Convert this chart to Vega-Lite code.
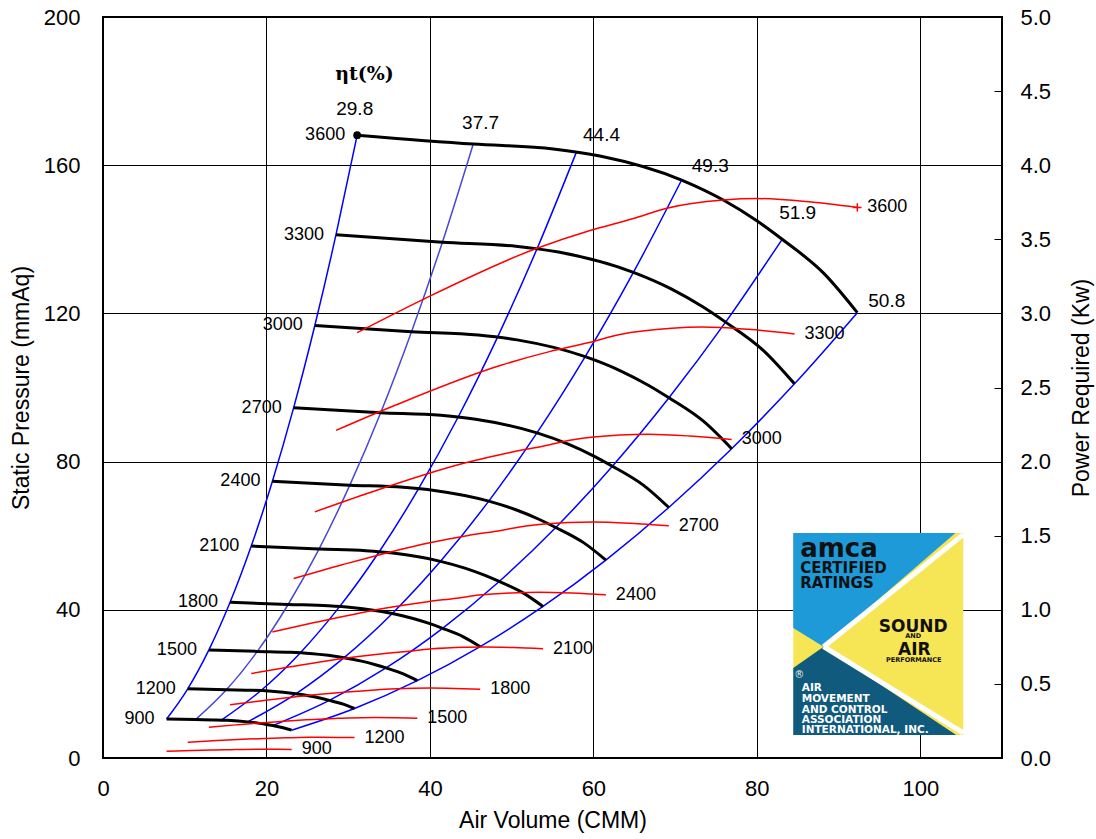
{
"$schema":"https://vega.github.io/schema/vega-lite/v6.json",
"width":899,"height":741,
"autosize":{"type":"none"},
"padding":{"left":103,"top":17,"right":94,"bottom":81},
"background":"#ffffff",
"config":{
 "view":{"stroke":"#000","strokeWidth":2},
 "font":"Liberation Sans",
 "axis":{"labelFont":"Liberation Sans","labelFontSize":22,"labelColor":"#000","titleFont":"Liberation Sans","titleFontSize":23,"titleFontWeight":"normal","titleColor":"#000","domain":false,"gridColor":"#000","gridOpacity":1,"gridWidth":1}
},
"datasets":{
 "black":[
  {"n":900,"q":7.78,"sp":10.51},{"n":900,"q":11.33,"sp":10.36},{"n":900,"q":13.78,"sp":10.28},{"n":900,"q":15.2,"sp":10.16},{"n":900,"q":17.7,"sp":9.75},{"n":900,"q":18.98,"sp":9.41},{"n":900,"q":20.0,"sp":9.06},{"n":900,"q":20.78,"sp":8.75},{"n":900,"q":22.05,"sp":8.18},{"n":900,"q":23.08,"sp":7.51},
  {"n":1200,"q":10.37,"sp":18.68},{"n":1200,"q":15.1,"sp":18.41},{"n":1200,"q":18.37,"sp":18.27},{"n":1200,"q":20.27,"sp":18.06},{"n":1200,"q":23.6,"sp":17.33},{"n":1200,"q":25.3,"sp":16.73},{"n":1200,"q":26.67,"sp":16.11},{"n":1200,"q":27.7,"sp":15.56},{"n":1200,"q":29.4,"sp":14.53},{"n":1200,"q":30.77,"sp":13.36},
  {"n":1500,"q":12.96,"sp":29.18},{"n":1500,"q":18.88,"sp":28.77},{"n":1500,"q":22.96,"sp":28.54},{"n":1500,"q":25.33,"sp":28.21},{"n":1500,"q":29.5,"sp":27.08},{"n":1500,"q":31.63,"sp":26.15},{"n":1500,"q":33.33,"sp":25.17},{"n":1500,"q":34.63,"sp":24.31},{"n":1500,"q":36.75,"sp":22.71},{"n":1500,"q":38.46,"sp":20.87},
  {"n":1800,"q":15.55,"sp":42.03},{"n":1800,"q":22.65,"sp":41.43},{"n":1800,"q":27.55,"sp":41.1},{"n":1800,"q":30.4,"sp":40.63},{"n":1800,"q":35.4,"sp":39.0},{"n":1800,"q":37.95,"sp":37.65},{"n":1800,"q":40.0,"sp":36.25},{"n":1800,"q":41.55,"sp":35.0},{"n":1800,"q":44.1,"sp":32.7},{"n":1800,"q":46.15,"sp":30.05},
  {"n":2100,"q":18.14,"sp":57.2},{"n":2100,"q":26.43,"sp":56.38},{"n":2100,"q":32.14,"sp":55.94},{"n":2100,"q":35.47,"sp":55.3},{"n":2100,"q":41.3,"sp":53.08},{"n":2100,"q":44.28,"sp":51.25},{"n":2100,"q":46.67,"sp":49.34},{"n":2100,"q":48.48,"sp":47.64},{"n":2100,"q":51.45,"sp":44.51},{"n":2100,"q":53.84,"sp":40.9},
  {"n":2400,"q":20.73,"sp":74.71},{"n":2400,"q":30.2,"sp":73.64},{"n":2400,"q":36.73,"sp":73.07},{"n":2400,"q":40.53,"sp":72.22},{"n":2400,"q":47.2,"sp":69.33},{"n":2400,"q":50.6,"sp":66.93},{"n":2400,"q":53.33,"sp":64.44},{"n":2400,"q":55.4,"sp":62.22},{"n":2400,"q":58.8,"sp":58.13},{"n":2400,"q":61.53,"sp":53.42},
  {"n":2700,"q":23.33,"sp":94.56},{"n":2700,"q":33.98,"sp":93.21},{"n":2700,"q":41.33,"sp":92.48},{"n":2700,"q":45.6,"sp":91.41},{"n":2700,"q":53.1,"sp":87.75},{"n":2700,"q":56.93,"sp":84.71},{"n":2700,"q":60.0,"sp":81.56},{"n":2700,"q":62.33,"sp":78.75},{"n":2700,"q":66.15,"sp":73.58},{"n":2700,"q":69.23,"sp":67.61},
  {"n":3000,"q":25.92,"sp":116.74},{"n":3000,"q":37.75,"sp":115.07},{"n":3000,"q":45.92,"sp":114.17},{"n":3000,"q":50.67,"sp":112.85},{"n":3000,"q":59.0,"sp":108.33},{"n":3000,"q":63.25,"sp":104.58},{"n":3000,"q":66.67,"sp":100.69},{"n":3000,"q":69.25,"sp":97.22},{"n":3000,"q":73.5,"sp":90.83},{"n":3000,"q":76.92,"sp":83.47},
  {"n":3300,"q":28.51,"sp":141.25},{"n":3300,"q":41.53,"sp":139.23},{"n":3300,"q":50.51,"sp":138.14},{"n":3300,"q":55.73,"sp":136.55},{"n":3300,"q":64.9,"sp":131.08},{"n":3300,"q":69.58,"sp":126.55},{"n":3300,"q":73.33,"sp":121.84},{"n":3300,"q":76.18,"sp":117.64},{"n":3300,"q":80.85,"sp":109.91},{"n":3300,"q":84.61,"sp":101.0},
  {"n":3600,"q":31.1,"sp":168.1},{"n":3600,"q":45.3,"sp":165.7},{"n":3600,"q":55.1,"sp":164.4},{"n":3600,"q":60.8,"sp":162.5},{"n":3600,"q":70.8,"sp":156.0},{"n":3600,"q":75.9,"sp":150.6},{"n":3600,"q":80.0,"sp":145.0},{"n":3600,"q":83.1,"sp":140.0},{"n":3600,"q":88.2,"sp":130.8},{"n":3600,"q":92.3,"sp":120.2}
 ],
 "blue":[
  {"l":"L1","q":7.78,"sp":10.51},{"l":"L1","q":10.37,"sp":18.68},{"l":"L1","q":12.96,"sp":29.18},{"l":"L1","q":15.55,"sp":42.03},{"l":"L1","q":18.14,"sp":57.2},{"l":"L1","q":20.73,"sp":74.71},{"l":"L1","q":23.33,"sp":94.56},{"l":"L1","q":25.92,"sp":116.74},{"l":"L1","q":28.51,"sp":141.25},{"l":"L1","q":31.1,"sp":168.1},
  {"l":"L2","q":11.33,"sp":10.36},{"l":"L2","q":15.1,"sp":18.41},{"l":"L2","q":18.88,"sp":28.77},{"l":"L2","q":22.65,"sp":41.43},{"l":"L2","q":26.43,"sp":56.38},{"l":"L2","q":30.2,"sp":73.64},{"l":"L2","q":33.98,"sp":93.21},{"l":"L2","q":37.75,"sp":115.07},{"l":"L2","q":41.53,"sp":139.23},{"l":"L2","q":45.3,"sp":165.7},
  {"l":"L3","q":14.48,"sp":10.21},{"l":"L3","q":19.3,"sp":18.16},{"l":"L3","q":24.13,"sp":28.37},{"l":"L3","q":28.95,"sp":40.85},{"l":"L3","q":33.78,"sp":55.6},{"l":"L3","q":38.6,"sp":72.62},{"l":"L3","q":43.43,"sp":91.91},{"l":"L3","q":48.25,"sp":113.47},{"l":"L3","q":53.08,"sp":137.3},{"l":"L3","q":57.9,"sp":163.4},
  {"l":"L4","q":17.7,"sp":9.75},{"l":"L4","q":23.6,"sp":17.33},{"l":"L4","q":29.5,"sp":27.08},{"l":"L4","q":35.4,"sp":39.0},{"l":"L4","q":41.3,"sp":53.08},{"l":"L4","q":47.2,"sp":69.33},{"l":"L4","q":53.1,"sp":87.75},{"l":"L4","q":59.0,"sp":108.33},{"l":"L4","q":64.9,"sp":131.08},{"l":"L4","q":70.8,"sp":156.0},
  {"l":"L5","q":20.78,"sp":8.75},{"l":"L5","q":27.7,"sp":15.56},{"l":"L5","q":34.63,"sp":24.31},{"l":"L5","q":41.55,"sp":35.0},{"l":"L5","q":48.48,"sp":47.64},{"l":"L5","q":55.4,"sp":62.22},{"l":"L5","q":62.33,"sp":78.75},{"l":"L5","q":69.25,"sp":97.22},{"l":"L5","q":76.18,"sp":117.64},{"l":"L5","q":83.1,"sp":140.0},
  {"l":"L6","q":23.08,"sp":7.51},{"l":"L6","q":30.77,"sp":13.36},{"l":"L6","q":38.46,"sp":20.87},{"l":"L6","q":46.15,"sp":30.05},{"l":"L6","q":53.84,"sp":40.9},{"l":"L6","q":61.53,"sp":53.42},{"l":"L6","q":69.23,"sp":67.61},{"l":"L6","q":76.92,"sp":83.47},{"l":"L6","q":84.61,"sp":101.0},{"l":"L6","q":92.3,"sp":120.2}
 ],
 "red":[
  {"n":900,"q":7.78,"kw":0.0448},{"n":900,"q":9.75,"kw":0.0483},{"n":900,"q":13.28,"kw":0.0538},{"n":900,"q":14.9,"kw":0.0556},{"n":900,"q":16.23,"kw":0.0569},{"n":900,"q":17.25,"kw":0.058},{"n":900,"q":18.98,"kw":0.0588},{"n":900,"q":20.0,"kw":0.059},{"n":900,"q":21.53,"kw":0.0587},{"n":900,"q":23.08,"kw":0.058},
  {"n":1200,"q":10.37,"kw":0.1063},{"n":1200,"q":13.0,"kw":0.1144},{"n":1200,"q":17.7,"kw":0.1274},{"n":1200,"q":19.87,"kw":0.1319},{"n":1200,"q":21.63,"kw":0.1348},{"n":1200,"q":23.0,"kw":0.1374},{"n":1200,"q":25.3,"kw":0.1394},{"n":1200,"q":26.67,"kw":0.1398},{"n":1200,"q":28.7,"kw":0.1391},{"n":1200,"q":30.77,"kw":0.1376},
  {"n":1500,"q":12.96,"kw":0.2076},{"n":1500,"q":16.25,"kw":0.2235},{"n":1500,"q":22.13,"kw":0.2488},{"n":1500,"q":24.83,"kw":0.2575},{"n":1500,"q":27.04,"kw":0.2633},{"n":1500,"q":28.75,"kw":0.2684},{"n":1500,"q":31.63,"kw":0.2724},{"n":1500,"q":33.33,"kw":0.2731},{"n":1500,"q":35.88,"kw":0.2716},{"n":1500,"q":38.46,"kw":0.2687},
  {"n":1800,"q":15.55,"kw":0.3588},{"n":1800,"q":19.5,"kw":0.3863},{"n":1800,"q":26.55,"kw":0.43},{"n":1800,"q":29.8,"kw":0.445},{"n":1800,"q":32.45,"kw":0.455},{"n":1800,"q":34.5,"kw":0.4638},{"n":1800,"q":37.95,"kw":0.4706},{"n":1800,"q":40.0,"kw":0.4719},{"n":1800,"q":43.05,"kw":0.4694},{"n":1800,"q":46.15,"kw":0.4644},
  {"n":2100,"q":18.14,"kw":0.5697},{"n":2100,"q":22.75,"kw":0.6134},{"n":2100,"q":30.98,"kw":0.6828},{"n":2100,"q":34.77,"kw":0.7066},{"n":2100,"q":37.86,"kw":0.7225},{"n":2100,"q":40.25,"kw":0.7364},{"n":2100,"q":44.28,"kw":0.7473},{"n":2100,"q":46.67,"kw":0.7493},{"n":2100,"q":50.23,"kw":0.7453},{"n":2100,"q":53.84,"kw":0.7374},
  {"n":2400,"q":20.73,"kw":0.8504},{"n":2400,"q":26.0,"kw":0.9156},{"n":2400,"q":35.4,"kw":1.0193},{"n":2400,"q":39.73,"kw":1.0548},{"n":2400,"q":43.27,"kw":1.0785},{"n":2400,"q":46.0,"kw":1.0993},{"n":2400,"q":50.6,"kw":1.1156},{"n":2400,"q":53.33,"kw":1.1185},{"n":2400,"q":57.4,"kw":1.1126},{"n":2400,"q":61.53,"kw":1.1007},
  {"n":2700,"q":23.33,"kw":1.2108},{"n":2700,"q":29.25,"kw":1.3036},{"n":2700,"q":39.83,"kw":1.4513},{"n":2700,"q":44.7,"kw":1.5019},{"n":2700,"q":48.68,"kw":1.5356},{"n":2700,"q":51.75,"kw":1.5652},{"n":2700,"q":56.93,"kw":1.5883},{"n":2700,"q":60.0,"kw":1.5926},{"n":2700,"q":64.58,"kw":1.5841},{"n":2700,"q":69.23,"kw":1.5673},
  {"n":3000,"q":25.92,"kw":1.6609},{"n":3000,"q":32.5,"kw":1.7882},{"n":3000,"q":44.25,"kw":1.9907},{"n":3000,"q":49.67,"kw":2.0602},{"n":3000,"q":54.08,"kw":2.1065},{"n":3000,"q":57.5,"kw":2.147},{"n":3000,"q":63.25,"kw":2.1788},{"n":3000,"q":66.67,"kw":2.1846},{"n":3000,"q":71.75,"kw":2.173},{"n":3000,"q":76.92,"kw":2.1499},
  {"n":3300,"q":28.51,"kw":2.2106},{"n":3300,"q":35.75,"kw":2.3801},{"n":3300,"q":48.68,"kw":2.6497},{"n":3300,"q":54.63,"kw":2.7421},{"n":3300,"q":59.49,"kw":2.8037},{"n":3300,"q":63.25,"kw":2.8576},{"n":3300,"q":69.58,"kw":2.9},{"n":3300,"q":73.33,"kw":2.9077},{"n":3300,"q":78.93,"kw":2.8923},{"n":3300,"q":84.61,"kw":2.8615},
  {"n":3600,"q":31.1,"kw":2.87},{"n":3600,"q":39.0,"kw":3.09},{"n":3600,"q":53.1,"kw":3.44},{"n":3600,"q":59.6,"kw":3.56},{"n":3600,"q":64.9,"kw":3.64},{"n":3600,"q":69.0,"kw":3.71},{"n":3600,"q":75.9,"kw":3.765},{"n":3600,"q":80.0,"kw":3.775},{"n":3600,"q":86.1,"kw":3.755},{"n":3600,"q":92.3,"kw":3.715}
 ],
 "blackLabels":[
  {"t":"900","q":7.78,"sp":10.51},{"t":"1200","q":10.37,"sp":18.68},{"t":"1500","q":12.96,"sp":29.18},{"t":"1800","q":15.55,"sp":42.03},{"t":"2100","q":18.14,"sp":57.2},{"t":"2400","q":20.73,"sp":74.71},{"t":"2700","q":23.33,"sp":94.56},{"t":"3000","q":25.92,"sp":116.74},{"t":"3300","q":28.51,"sp":141.25},{"t":"3600","q":31.1,"sp":168.1}
 ],
 "redLabels":[
  {"t":"900","q":23.08,"kw":0.058},{"t":"1200","q":30.77,"kw":0.1376},{"t":"1500","q":38.46,"kw":0.2687},{"t":"1800","q":46.15,"kw":0.4644},{"t":"2100","q":53.84,"kw":0.7374},{"t":"2400","q":61.53,"kw":1.1007},{"t":"2700","q":69.23,"kw":1.5673},{"t":"3000","q":76.92,"kw":2.1499},{"t":"3300","q":84.61,"kw":2.8615},{"t":"3600","q":92.3,"kw":3.715}
 ],
 "effLabels":[
  {"t":"29.8","q":30.8,"sp":175.1},{"t":"37.7","q":46.2,"sp":171.5},{"t":"44.4","q":61.0,"sp":168.1},{"t":"49.3","q":74.3,"sp":159.8},{"t":"51.9","q":85.0,"sp":147.0},{"t":"50.8","q":95.9,"sp":123.4}
 ],
 "eta":[{"t":"ηt(%)","q":32.0,"sp":184.6}],
 "dot":[{"q":31.1,"sp":168.1}],
 "plus":[{"q":92.3,"kw":3.715}],
 "logoBox":[{"q":84.46,"q2":105.26,"lo":6.21,"hi":60.73}],
 "logoBlue":[{"q":84.46,"lo":35.09,"hi":60.73},{"q":88.17,"lo":30.04,"hi":60.73},{"q":104.3,"lo":60.73,"hi":60.73}],
 "logoTeal":[{"q":84.46,"lo":6.21,"hi":24.3},{"q":88.17,"lo":6.21,"hi":30.04},{"q":104.4,"lo":6.21,"hi":6.21}],
 "logoStripes":[{"s":"a","q":88.17,"sp":30.04},{"s":"a","q":105.26,"sp":60.3},{"s":"b","q":88.17,"sp":30.04},{"s":"b","q":105.26,"sp":6.8}],
 "logoAmca":[{"t":"amca","q":85.31,"sp":54.33}],
 "logoCert":[{"t":"CERTIFIED","q":85.31,"sp":49.85},{"t":"RATINGS","q":85.31,"sp":45.8}],
 "logoSound":[{"t":"SOUND","q":99.14,"sp":33.9},{"t":"AIR","q":99.27,"sp":27.8}],
 "logoSmall":[{"t":"AND","q":99.14,"sp":32.3},{"t":"PERFORMANCE","q":99.2,"sp":25.9}],
 "logoWhite":[{"t":"AIR","q":85.5,"sp":18.17},{"t":"MOVEMENT","q":85.5,"sp":15.11},{"t":"AND CONTROL","q":85.5,"sp":12.23},{"t":"ASSOCIATION","q":85.5,"sp":9.37},{"t":"INTERNATIONAL, INC.","q":85.5,"sp":6.67}],
 "logoReg":[{"t":"®","q":85.2,"sp":22.4}]
},
"layer":[
 {"layer":[
  {"data":{"name":"blue"},
   "mark":{"type":"line","strokeWidth":1.5,"interpolate":"monotone"},
   "encoding":{
    "x":{"field":"q","type":"quantitative","scale":{"domain":[0,110],"nice":false,"zero":false},
         "axis":{"values":[0,20,40,60,80,100],"title":"Air Volume (CMM)","grid":true,"ticks":false,"labelPadding":20,"titlePadding":10,"labelFlush":false}},
    "y":{"field":"sp","type":"quantitative","scale":{"domain":[0,200],"nice":false,"zero":false},
         "axis":{"values":[0,40,80,120,160,200],"title":"Static Pressure (mmAq)","grid":true,"ticks":false,"labelPadding":23,"titlePadding":10}},
    "color":{"field":"l","type":"nominal","scale":{"domain":["L1","L2","L3","L4","L5","L6"],"range":["#0000ff","#4848d0","#0000ff","#0000ff","#0000ff","#0000ff"]},"legend":null}
   }},
  {"data":{"name":"black"},
   "mark":{"type":"line","color":"#000","strokeWidth":3,"interpolate":"monotone"},
   "encoding":{"x":{"field":"q","type":"quantitative"},"y":{"field":"sp","type":"quantitative"},"detail":{"field":"n","type":"nominal"}}},
  {"data":{"name":"dot"},
   "mark":{"type":"point","filled":true,"color":"#000","size":60,"opacity":1},
   "encoding":{"x":{"field":"q","type":"quantitative"},"y":{"field":"sp","type":"quantitative"}}},
  {"data":{"name":"blackLabels"},
   "mark":{"type":"text","align":"right","baseline":"middle","dx":-12,"fontSize":18,"font":"Liberation Sans","color":"#000"},
   "encoding":{"x":{"field":"q","type":"quantitative"},"y":{"field":"sp","type":"quantitative"},"text":{"field":"t"}}},
  {"data":{"name":"effLabels"},
   "mark":{"type":"text","align":"center","baseline":"middle","fontSize":19,"font":"Liberation Sans","color":"#000"},
   "encoding":{"x":{"field":"q","type":"quantitative"},"y":{"field":"sp","type":"quantitative"},"text":{"field":"t"}}},
  {"data":{"name":"eta"},
   "mark":{"type":"text","align":"center","baseline":"middle","fontSize":19,"font":"DejaVu Serif","fontWeight":"bold","color":"#000"},
   "encoding":{"x":{"field":"q","type":"quantitative"},"y":{"field":"sp","type":"quantitative"},"text":{"field":"t"}}},
  {"data":{"name":"logoBox"},
   "mark":{"type":"rect","color":"#f6e555","opacity":1},
   "encoding":{"x":{"field":"q","type":"quantitative"},"x2":{"field":"q2"},"y":{"field":"lo","type":"quantitative"},"y2":{"field":"hi"}}},
  {"data":{"name":"logoBlue"},
   "mark":{"type":"area","color":"#1e9ad8","opacity":1,"interpolate":"linear"},
   "encoding":{"x":{"field":"q","type":"quantitative"},"y":{"field":"lo","type":"quantitative"},"y2":{"field":"hi"}}},
  {"data":{"name":"logoTeal"},
   "mark":{"type":"area","color":"#0f5a7d","opacity":1,"interpolate":"linear"},
   "encoding":{"x":{"field":"q","type":"quantitative"},"y":{"field":"lo","type":"quantitative"},"y2":{"field":"hi"}}},
  {"data":{"name":"logoStripes"},
   "mark":{"type":"line","color":"#ffffff","strokeWidth":5,"strokeCap":"butt"},
   "encoding":{"x":{"field":"q","type":"quantitative"},"y":{"field":"sp","type":"quantitative"},"detail":{"field":"s","type":"nominal"}}},
  {"data":{"name":"logoAmca"},
   "mark":{"type":"text","align":"left","baseline":"alphabetic","fontSize":26,"font":"DejaVu Sans","fontWeight":"bold","color":"#111"},
   "encoding":{"x":{"field":"q","type":"quantitative"},"y":{"field":"sp","type":"quantitative"},"text":{"field":"t"}}},
  {"data":{"name":"logoCert"},
   "mark":{"type":"text","align":"left","baseline":"alphabetic","fontSize":15,"font":"DejaVu Sans","fontWeight":"bold","color":"#111"},
   "encoding":{"x":{"field":"q","type":"quantitative"},"y":{"field":"sp","type":"quantitative"},"text":{"field":"t"}}},
  {"data":{"name":"logoSound"},
   "mark":{"type":"text","align":"center","baseline":"alphabetic","fontSize":17,"font":"DejaVu Sans","fontWeight":"bold","color":"#111"},
   "encoding":{"x":{"field":"q","type":"quantitative"},"y":{"field":"sp","type":"quantitative"},"text":{"field":"t"}}},
  {"data":{"name":"logoSmall"},
   "mark":{"type":"text","align":"center","baseline":"alphabetic","fontSize":6.5,"font":"DejaVu Sans","fontWeight":"bold","color":"#111"},
   "encoding":{"x":{"field":"q","type":"quantitative"},"y":{"field":"sp","type":"quantitative"},"text":{"field":"t"}}},
  {"data":{"name":"logoWhite"},
   "mark":{"type":"text","align":"left","baseline":"alphabetic","fontSize":10.5,"font":"DejaVu Sans","fontWeight":"bold","color":"#ffffff"},
   "encoding":{"x":{"field":"q","type":"quantitative"},"y":{"field":"sp","type":"quantitative"},"text":{"field":"t"}}},
  {"data":{"name":"logoReg"},
   "mark":{"type":"text","align":"center","baseline":"middle","fontSize":10,"font":"DejaVu Sans","color":"#e8e8e8"},
   "encoding":{"x":{"field":"q","type":"quantitative"},"y":{"field":"sp","type":"quantitative"},"text":{"field":"t"}}}
 ]},
 {"layer":[
  {"data":{"name":"red"},
   "mark":{"type":"line","color":"#ff0000","strokeWidth":1.5,"interpolate":"monotone"},
   "encoding":{
    "x":{"field":"q","type":"quantitative"},
    "y":{"field":"kw","type":"quantitative","scale":{"domain":[0,5],"nice":false,"zero":false},
         "axis":{"orient":"right","values":[0,0.5,1,1.5,2,2.5,3,3.5,4,4.5,5],"format":".1f","title":"Power Required (Kw)","grid":false,"ticks":true,"tickSize":-8,"tickColor":"#000","tickWidth":1,"labelPadding":26,"titlePadding":20,"titleAngle":270,"titleBaseline":"top"}},
    "detail":{"field":"n","type":"nominal"}
   }},
  {"data":{"name":"plus"},
   "mark":{"type":"point","shape":"M-1,0H1M0,-1V1","filled":false,"color":"#ff0000","strokeWidth":1.5,"size":70,"opacity":1},
   "encoding":{"x":{"field":"q","type":"quantitative"},"y":{"field":"kw","type":"quantitative"}}},
  {"data":{"name":"redLabels"},
   "mark":{"type":"text","align":"left","baseline":"middle","dx":10,"fontSize":18,"font":"Liberation Sans","color":"#000"},
   "encoding":{"x":{"field":"q","type":"quantitative"},"y":{"field":"kw","type":"quantitative"},"text":{"field":"t"}}}
 ]}
],
"resolve":{"scale":{"y":"independent"},"axis":{"y":"independent"}}
}
